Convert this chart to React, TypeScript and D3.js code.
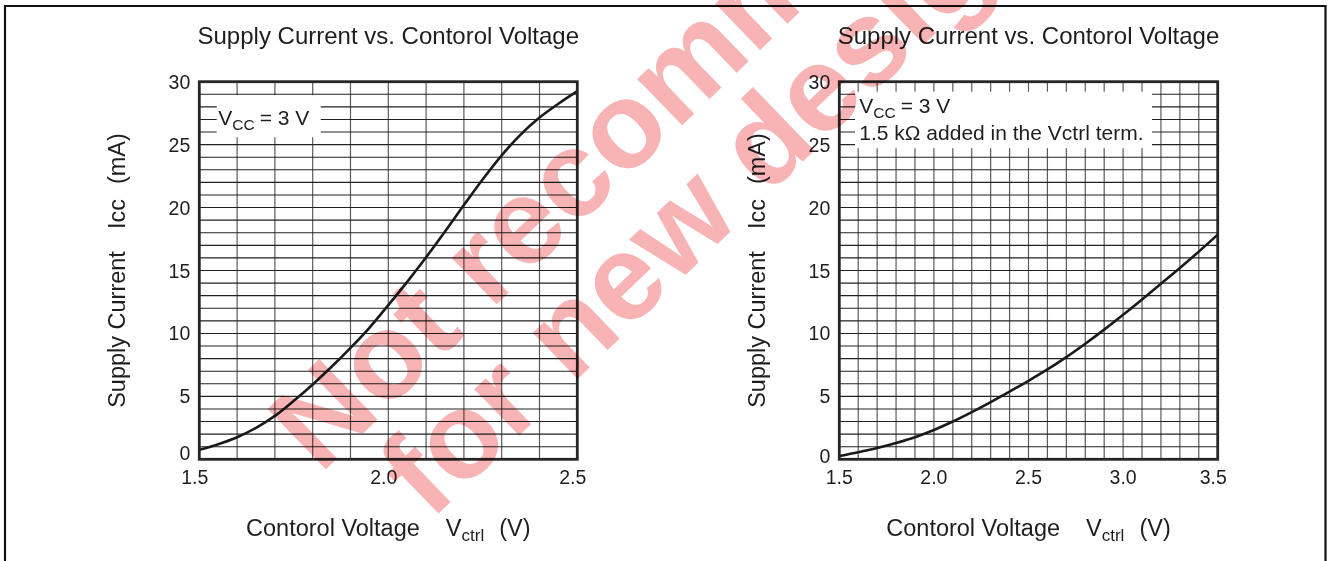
import React from "react";
import * as d3 from "d3";

// ---- data ----
const leftVoltage = [1.5, 1.55, 1.6, 1.65, 1.7, 1.75, 1.8, 1.85, 1.9, 1.95, 2.0, 2.05, 2.1, 2.15, 2.2, 2.25, 2.3, 2.35, 2.4, 2.45, 2.5];
const leftCurrent = [0.75, 1.2, 1.75, 2.5, 3.45, 4.65, 5.95, 7.35, 8.85, 10.45, 12.25, 14.1, 16.05, 18.1, 20.2, 22.25, 24.15, 25.8, 27.15, 28.25, 29.25];

const rightVoltage = [1.5, 1.6, 1.7, 1.8, 1.9, 2.0, 2.1, 2.2, 2.3, 2.4, 2.5, 2.6, 2.7, 2.8, 2.9, 3.0, 3.1, 3.2, 3.3, 3.4, 3.5];
const rightCurrent = [0.26, 0.56, 0.9, 1.3, 1.76, 2.33, 3.0, 3.75, 4.55, 5.38, 6.24, 7.14, 8.12, 9.18, 10.3, 11.48, 12.7, 13.95, 15.2, 16.5, 17.85];

const yTicks = [0, 5, 10, 15, 20, 25, 30];
const leftXTicks = [1.5, 2.0, 2.5];
const rightXTicks = [1.5, 2.0, 2.5, 3.0, 3.5];

const titleText = "Supply Current vs. Contorol Voltage";
const leftNotes = ["VCC = 3 V"];
const rightNotes = ["VCC = 3 V", "1.5 k\u03A9 added in the Vctrl term."];
const watermarkLines = ["Not recommended", "for new designs"];

const FONT = "'Liberation Sans', Arial, Helvetica, sans-serif";
const INK = "#1e1e1e";

type ChartProps = {
  left: number;
  right: number;
  xDomain: [number, number];
  xTicks: number[];
  xs: number[];
  ys: number[];
  notes: string[];
  noteBox: { w: number; h: number; dy: number };
  tickShift: number;
  zeroShift: number;
};

function Chart({ left, right, xDomain, xTicks, xs, ys, notes, noteBox, tickShift, zeroShift }: ChartProps) {
  const top = 81.7;
  const bottom = 459.3;
  const x = d3.scaleLinear().domain(xDomain).range([left, right]);
  const y = d3.scaleLinear().domain([0, 30]).range([bottom, top]);
  const cx = (left + right) / 2;
  const cy = (top + bottom) / 2;

  const xGrid = d3.range(Math.round((xDomain[1] - xDomain[0]) / 0.1) + 1).map((i) => xDomain[0] + i * 0.1);
  const yGrid = d3.range(31);

  const line = d3
    .line<number>()
    .x((_, i) => x(xs[i]))
    .y((d) => y(d))
    .curve(d3.curveCatmullRom.alpha(0.5));

  const fmt = d3.format(".1f");

  return (
    <g fontFamily={FONT} fill={INK}>
      {/* title */}
      <text x={cx} y={44} textAnchor="middle" fontSize={24}>
        {titleText}
      </text>

      {/* grid */}
      {xGrid.map((v, i) => (
        <line key={"vx" + i} x1={x(v)} x2={x(v)} y1={top} y2={bottom} stroke="#5a5a5a" strokeWidth={1.2} />
      ))}
      {yGrid.map((v) => (
        <line key={"hy" + v} x1={left} x2={right} y1={y(v)} y2={y(v)} stroke="#222" strokeWidth={1.1} />
      ))}

      {/* annotation box */}
      <rect x={left + 17.4 - (notes.length > 1 ? 1.7 : 0)} y={top + noteBox.dy} width={noteBox.w} height={noteBox.h} fill="#fff" />
      {notes.map((n, i) => {
        const tx = left + (notes.length > 1 ? 20 : 19);
        const ty = (notes.length > 1 ? 113.3 : 125) + i * 26.7;
        if (n.startsWith("VCC")) {
          return (
            <text key={i} x={tx} y={ty} fontSize={21}>
              V
              <tspan fontSize={15.5} dy={5}>
                CC
              </tspan>
              <tspan dx={5} dy={-5}>
                = 3 V
              </tspan>
            </text>
          );
        }
        return (
          <text key={i} x={tx} y={ty} fontSize={21}>
            {n}
          </text>
        );
      })}

      {/* curve */}
      <path d={line(ys) || ""} fill="none" stroke="#1a1a1a" strokeWidth={2.6} />

      {/* frame */}
      <rect x={left} y={top} width={right - left} height={bottom - top} fill="none" stroke="#262626" strokeWidth={2.8} />

      {/* y tick labels */}
      {yTicks.map((v) => (
        <text key={"yt" + v} x={left - 9} y={y(v) + 7 - (v === 0 ? zeroShift : 0)} textAnchor="end" fontSize={19.5}>
          {v}
        </text>
      ))}

      {/* x tick labels */}
      {xTicks.map((v, i) => (
        <text
          key={"xt" + v}
          x={x(v) + (i === xTicks.length - 1 ? -4.5 : tickShift)}
          y={484}
          textAnchor="middle"
          fontSize={19.5}
        >
          {fmt(v)}
        </text>
      ))}

      {/* x axis label */}
      <text x={cx} y={536} textAnchor="middle" fontSize={23.5}>
        Contorol Voltage
        <tspan dx={26}>V</tspan>
        <tspan fontSize={17} dy={5}>
          ctrl
        </tspan>
        <tspan dx={15} dy={-5}>
          (V)
        </tspan>
      </text>

      {/* y axis label */}
      <text transform={`translate(${left - 74.3},${cy}) rotate(-90)`} textAnchor="middle" fontSize={23.5}>
        Supply Current
        <tspan dx={22}>Icc</tspan>
        <tspan dx={15}>(mA)</tspan>
      </text>
    </g>
  );
}

export default function App() {
  return (
    <svg
      width={1327}
      height={561}
      viewBox="0 0 1327 561"
      style={{ position: "absolute", left: 0, top: 0, background: "#fff" }}
    >
      <rect x={0} y={0} width={1327} height={561} fill="#fff" />
      <path d="M5,561 V6 H1325.5 V561" fill="none" stroke="#111" strokeWidth={2.2} />

      <Chart
        left={199.3}
        right={577.3}
        xDomain={[1.5, 2.5]}
        xTicks={leftXTicks}
        xs={leftVoltage}
        ys={leftCurrent}
        notes={leftNotes}
        noteBox={{ w: 104, h: 42, dy: 13.5 }}
        tickShift={-4.5}
        zeroShift={6.5}
      />
      <Chart
        left={839.3}
        right={1217.7}
        xDomain={[1.5, 3.5]}
        xTicks={rightXTicks}
        xs={rightVoltage}
        ys={rightCurrent}
        notes={rightNotes}
        noteBox={{ w: 297, h: 56.5, dy: 10 }}
        tickShift={0}
        zeroShift={3}
      />

      {/* watermark */}
      <g
        transform="translate(320,475) rotate(-44)"
        fontFamily={FONT}
        fontWeight="bold"
        fontSize={122}
        fill="rgb(248,180,180)"
        style={{ mixBlendMode: "multiply" }}
      >
        <text x={0} y={0}>
          {watermarkLines[0]}
        </text>
        <text x={47} y={110}>
          {watermarkLines[1]}
        </text>
      </g>
    </svg>
  );
}
